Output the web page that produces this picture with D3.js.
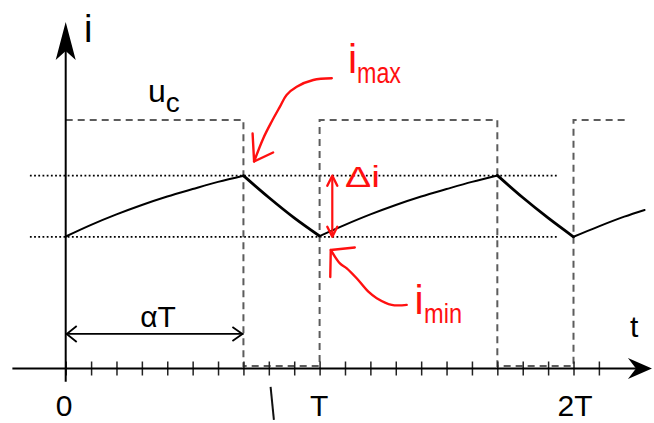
<!DOCTYPE html>
<html>
<head>
<meta charset="utf-8">
<script src="https://cdn.jsdelivr.net/npm/d3@7"></script>
<style>
  html, body { margin: 0; padding: 0; background: #fff; }
  svg { display: block; font-family: "Liberation Sans", Arial, Helvetica, sans-serif; }
</style>
</head>
<body>
<svg id="chart" width="654" height="423"></svg>
<script>
// Inductor current i(t) of a chopper, time in units of the period T
const tCurrent = [0, 0.1, 0.2, 0.3, 0.4, 0.5, 0.6, 0.7, 0.8, 0.9, 1.0,
                  1.1, 1.2, 1.3, 1.4, 1.5, 1.6, 1.7, 1.8, 1.9, 2.0, 2.1, 2.2, 2.28];
const iCurrent = [0.531, 0.578, 0.620, 0.658, 0.692, 0.722, 0.751, 0.776, 0.688, 0.606, 0.533,
                  0.578, 0.620, 0.658, 0.692, 0.722, 0.751, 0.777, 0.688, 0.606, 0.530, 0.572, 0.611, 0.638];

// Control signal u_c (1 = switch on)
const tControl = [0, 0.7, 0.7, 1.0, 1.0, 1.7, 1.7, 2.0, 2.0, 2.215];
const uControl = [1, 1, 0.01, 0.01, 1, 1, 0.01, 0.01, 1, 1];

// Ripple bounds and duty cycle
const iMax = 0.776;
const iMin = 0.530;
const alpha = 0.7;

// Time axis ticks (every 0.1 T) and their labels
const tickValues = [0, 0.1, 0.2, 0.3, 0.4, 0.5, 0.6, 0.7, 0.8, 0.9, 1.0,
                    1.1, 1.2, 1.3, 1.4, 1.5, 1.6, 1.7, 1.8, 1.9, 2.0, 2.1];
const tickLabels = { 0: "0", 1: "T", 2: "2T" };

// Hand-drawn pointer curves for the i_max / i_min callouts (t, i)
const imaxPointerT = [1.048, 0.975, 0.910, 0.870, 0.844, 0.811, 0.778, 0.742];
const imaxPointerI = [1.168, 1.161, 1.134, 1.101, 1.054, 0.993, 0.926, 0.833];
const iminPointerT = [1.343, 1.284, 1.225, 1.192, 1.146, 1.107, 1.080, 1.044];
const iminPointerI = [0.256, 0.256, 0.283, 0.309, 0.363, 0.403, 0.423, 0.477];

const RED = "#ff1010";
const svg = d3.select("#chart");

const x = d3.scaleLinear().domain([0, 2]).range([65.7, 573.5]);
const y = d3.scaleLinear().domain([0, 1]).range([368.5, 120]);

const X0 = x(0), Y0 = y(0);

// ---- dotted i_max / i_min reference lines
[iMax, iMin].forEach(v => {
  svg.append("line")
    .attr("x1", x(-0.141)).attr("x2", x(1.935))
    .attr("y1", y(v)).attr("y2", y(v))
    .attr("stroke", "#000").attr("stroke-width", 1.8)
    .attr("stroke-dasharray", "1.8,2.4");
});

// ---- u_c square wave (dashed)
const ctrl = tControl.map((t, k) => ({ t, u: uControl[k] }));
svg.append("path")
  .datum(ctrl)
  .attr("d", d3.line().x(d => x(d.t)).y(d => y(d.u)))
  .attr("fill", "none")
  .attr("stroke", "#5c5c5c")
  .attr("stroke-width", 2)
  .attr("stroke-dasharray", "7,5");

// ---- current waveform, split into rising and falling pieces
const pts = tCurrent.map((t, k) => ({ t, i: iCurrent[k] }));
const segs = [];
let cur = [pts[0]], dir = null;
for (let k = 1; k < pts.length; k++) {
  const d = Math.sign(pts[k].i - pts[k - 1].i);
  if (dir !== null && d !== dir) { segs.push({ dir, pts: cur }); cur = [pts[k - 1]]; }
  cur.push(pts[k]);
  dir = d;
}
segs.push({ dir, pts: cur });

const curLine = d3.line().x(d => x(d.t)).y(d => y(d.i)).curve(d3.curveMonotoneX);
svg.selectAll("path.current")
  .data(segs)
  .join("path")
  .attr("class", "current")
  .attr("d", d => curLine(d.pts))
  .attr("fill", "none")
  .attr("stroke", "#000")
  .attr("stroke-width", d => d.dir < 0 ? 2.8 : 2)
  .attr("stroke-linejoin", "round")
  .attr("stroke-linecap", "round");

// ---- time axis with ticks crossing the line
const axis = d3.axisBottom(x)
  .tickValues(tickValues)
  .tickSize(7)
  .tickFormat(d => tickLabels[d] || "");
const gx = svg.append("g").attr("transform", `translate(0,${Y0})`).call(axis);
gx.select(".domain").remove();
gx.selectAll(".tick line")
  .attr("y1", -7).attr("y2", 7)
  .attr("stroke", "#222").attr("stroke-width", 1.5);
gx.selectAll(".tick text")
  .attr("y", 26.5)
  .attr("dx", d => d === 0 ? -2 : (d === 1 ? -1 : 1))
  .attr("fill", "#000")
  .attr("font-size", 30)
  .attr("font-family", "Liberation Sans, Arial, sans-serif");

// horizontal axis line + arrow
const xTip = x(2.309);
svg.append("line")
  .attr("x1", x(-0.21)).attr("x2", xTip - 16)
  .attr("y1", Y0).attr("y2", Y0)
  .attr("stroke", "#000").attr("stroke-width", 2);
svg.append("path")
  .attr("d", `M${xTip},${Y0} L${xTip - 24},${Y0 - 10.5} L${xTip - 16},${Y0} L${xTip - 24},${Y0 + 10.5} Z`)
  .attr("fill", "#000");

// vertical axis line + arrow
const yTip = y(1.394);
svg.append("line")
  .attr("x1", X0).attr("x2", X0)
  .attr("y1", y(-0.053)).attr("y2", yTip + 28)
  .attr("stroke", "#000").attr("stroke-width", 2);
svg.append("path")
  .attr("d", `M${X0},${yTip} L${X0 + 10},${yTip + 38} L${X0},${yTip + 29} L${X0 - 10},${yTip + 38} Z`)
  .attr("fill", "#000");

// small marker below the axis
svg.append("line")
  .attr("x1", x(0.807)).attr("y1", y(-0.074))
  .attr("x2", x(0.820)).attr("y2", y(-0.207))
  .attr("stroke", "#111").attr("stroke-width", 2);

// ---- alpha*T span arrow
const ya = y(0.139);
svg.append("line")
  .attr("x1", x(0)).attr("x2", x(alpha))
  .attr("y1", ya).attr("y2", ya)
  .attr("stroke", "#000").attr("stroke-width", 1.8);
svg.append("path")
  .attr("d", `M${x(0) + 11},${ya - 8} L${x(0) + 1},${ya} L${x(0) + 11},${ya + 8}` +
             `M${x(alpha) - 11},${ya - 7} L${x(alpha) - 1},${ya} L${x(alpha) - 11},${ya + 7}`)
  .attr("fill", "none").attr("stroke", "#000").attr("stroke-width", 1.8)
  .attr("stroke-linejoin", "miter");

// ---- labels (black)
svg.append("text").attr("x", 84).attr("y", 41.5)
  .attr("font-size", 38).text("i");
svg.append("text").attr("x", 630).attr("y", 337)
  .attr("font-size", 30).text("t");
const uc = svg.append("text").attr("x", 148).attr("y", 102).attr("font-size", 32);
uc.append("tspan").text("u");
uc.append("tspan").attr("font-size", 28).attr("dy", 10).text("c");
svg.append("text").attr("x", (x(0) + x(alpha)) / 2 + 3.5).attr("y", 327)
  .attr("text-anchor", "middle").attr("font-size", 30).text("αT");

// ---- red annotations
const redLine = d3.line().x(d => x(d[0])).y(d => y(d[1])).curve(d3.curveCatmullRom);
const redStyle = sel => sel.attr("fill", "none").attr("stroke", RED)
  .attr("stroke-width", 2.4).attr("stroke-linecap", "round").attr("stroke-linejoin", "round");

// i_max pointer
svg.append("path").datum(imaxPointerT.map((t, k) => [t, imaxPointerI[k]]))
  .attr("d", redLine).call(redStyle);
{
  const tx = x(imaxPointerT[imaxPointerT.length - 1]), ty = y(imaxPointerI[imaxPointerI.length - 1]);
  svg.append("path")
    .attr("d", `M${tx - 1.5},${ty - 28} L${tx},${ty} L${tx + 19},${ty - 9}`)
    .call(redStyle);
}
// i_min pointer
svg.append("path").datum(iminPointerT.map((t, k) => [t, iminPointerI[k]]))
  .attr("d", redLine).call(redStyle);
{
  const tx = x(iminPointerT[iminPointerT.length - 1]), ty = y(iminPointerI[iminPointerI.length - 1]);
  svg.append("path")
    .attr("d", `M${tx - 0.5},${ty + 27} L${tx},${ty} L${tx + 24},${ty - 2.5}`)
    .call(redStyle);
}

// delta-i double arrow between the ripple bounds
{
  const ax = x(1.05), yTop = y(iMax), yBot = y(iMin);
  svg.append("line").attr("x1", ax).attr("x2", ax)
    .attr("y1", yTop + 1).attr("y2", yBot - 1)
    .attr("stroke", RED).attr("stroke-width", 2.2);
  svg.append("path")
    .attr("d", `M${ax - 5},${yTop + 10} L${ax},${yTop} L${ax + 5},${yTop + 10}` +
               `M${ax - 5},${yBot - 10} L${ax},${yBot} L${ax + 5},${yBot - 10}`)
    .call(redStyle);
}

// red texts
svg.append("text").attr("x", 348).attr("y", 73.3).attr("fill", RED)
  .attr("font-size", 41).text("i");
svg.append("text").attr("x", 357).attr("y", 82.7).attr("fill", RED)
  .attr("font-size", 30).attr("textLength", 44).attr("lengthAdjust", "spacingAndGlyphs").text("max");
svg.append("text").attr("x", 345).attr("y", 186.7).attr("fill", RED)
  .attr("font-size", 30).attr("textLength", 35).attr("lengthAdjust", "spacingAndGlyphs").text("Δi");
svg.append("text").attr("x", 414.5).attr("y", 314).attr("fill", RED)
  .attr("font-size", 41).text("i");
svg.append("text").attr("x", 424).attr("y", 323.3).attr("fill", RED)
  .attr("font-size", 28).attr("textLength", 38).attr("lengthAdjust", "spacingAndGlyphs").text("min");
</script>
</body>
</html>
